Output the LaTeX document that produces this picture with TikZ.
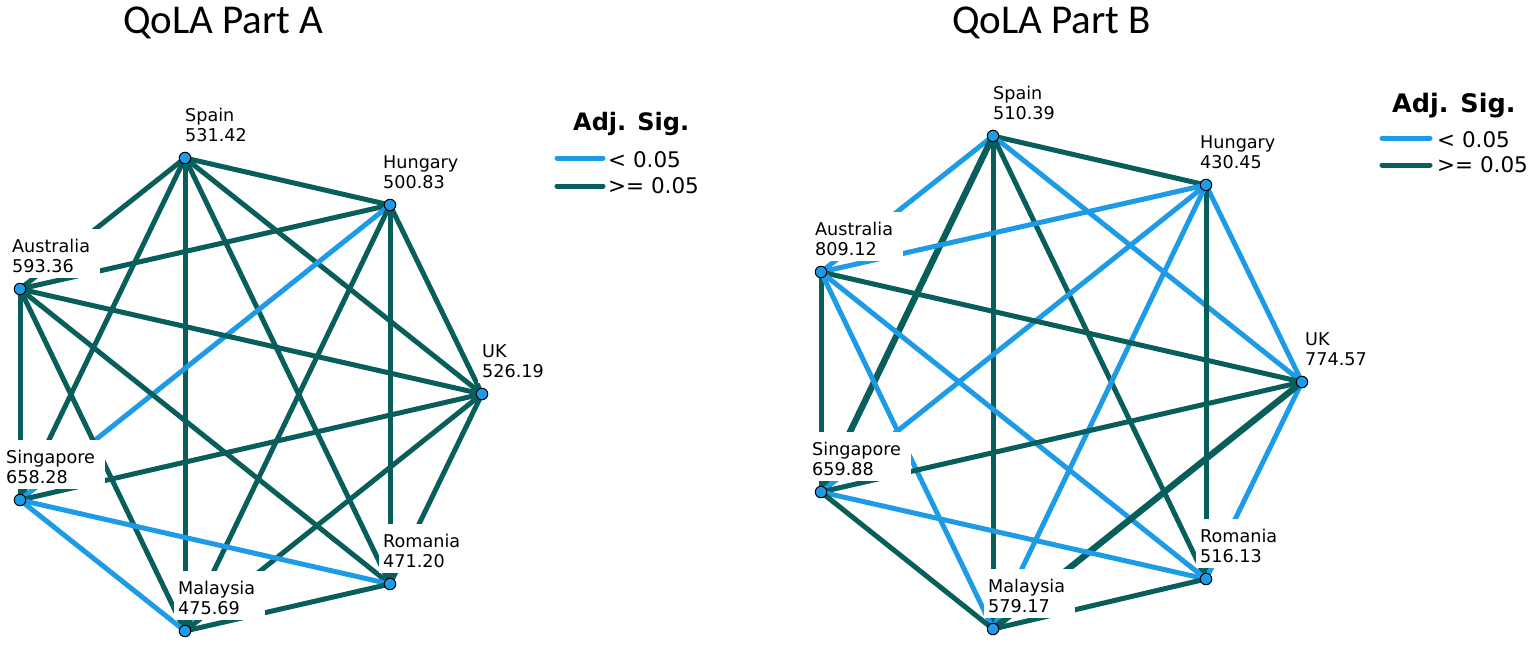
\documentclass[tikz,border=0pt]{standalone}
\usepackage{fontspec}
\setmainfont{DejaVu Sans}
\newfontfamily\titlefont{Carlito}
\definecolor{sigblue}{RGB}{30,155,230}
\definecolor{sigteal}{RGB}{8,94,90}
\pgfdeclarelayer{edges}
\pgfdeclarelayer{labels}
\pgfsetlayers{edges,labels,main}
\newcommand{\lab}[2]{\rule{0pt}{19pt}#1\rule{6pt}{0pt}\\#2\rule{6pt}{0pt}}
\begin{document}
\begin{tikzpicture}[x=1pt,y=-1pt,
  edge/.style={line width=5pt},
  sb/.style={edge,draw=sigblue},
  st/.style={edge,draw=sigteal},
  thick edge/.style={line width=6.4pt},
  dot/.style={circle,draw=black,line width=1pt,fill=sigblue,minimum size=11.5pt,inner sep=0pt},
  lbl/.style={fill=white,align=left,inner xsep=4pt,inner ysep=5pt,anchor=south west,font=\fontsize{17.6}{20}\selectfont},
  ttl/.style={anchor=base west,inner sep=0pt,font=\titlefont\fontsize{41}{41}\selectfont},
  leghead/.style={anchor=base west,inner sep=0pt,font=\bfseries\fontsize{24}{24}\selectfont},
  legtext/.style={anchor=west,inner sep=0pt,font=\fontsize{21.5}{22}\selectfont},
  legline/.style={line width=5pt,line cap=round}
]
\useasboundingbox (0,0) rectangle (1535,646);

% titles
\node[ttl] (tA) at (123,33) {QoLA Part A};
\node[ttl] (tB) at (952,33) {QoLA Part B};

% ---------- left graph nodes ----------
\node[dot] (aSp) at (185,158) {};
\node[dot] (aHu) at (390,205) {};
\node[dot] (aAu) at (20,289) {};
\node[dot] (aUK) at (482,394) {};
\node[dot] (aSg) at (20,500) {};
\node[dot] (aRo) at (390,584) {};
\node[dot] (aMy) at (185,631) {};

% ---------- right graph nodes ----------
\node[dot] (bSp) at (993,136) {};
\node[dot] (bHu) at (1206,185) {};
\node[dot] (bAu) at (821,272) {};
\node[dot] (bUK) at (1302,382) {};
\node[dot] (bSg) at (821,492) {};
\node[dot] (bRo) at (1206,579) {};
\node[dot] (bMy) at (993,629) {};

\begin{pgfonlayer}{labels}
\node[lbl] (aSpL) at (181,147) {\lab{Spain}{531.42}};
\node[lbl] (aHuL) at (379,194) {\lab{Hungary}{500.83}};
\node[lbl] (aAuL) at (8,278) {\lab{Australia}{593.36}};
\node[lbl] (aUKL) at (478,383) {\lab{UK}{526.19}};
\node[lbl] (aSgL) at (2,489) {\lab{Singapore}{658.28}};
\node[lbl] (aRoL) at (379,573) {\lab{Romania}{471.20}};
\node[lbl] (aMyL) at (174,620) {\lab{Malaysia}{475.69}};

\node[lbl] (bSpL) at (989,125) {\lab{Spain}{510.39}};
\node[lbl] (bHuL) at (1196,174) {\lab{Hungary}{430.45}};
\node[lbl] (bAuL) at (811,261) {\lab{Australia}{809.12}};
\node[lbl] (bUKL) at (1301,371) {\lab{UK}{774.57}};
\node[lbl] (bSgL) at (808,481) {\lab{Singapore}{659.88}};
\node[lbl] (bRoL) at (1196,568) {\lab{Romania}{516.13}};
\node[lbl] (bMyL) at (984,618) {\lab{Malaysia}{579.17}};
\end{pgfonlayer}

\begin{pgfonlayer}{edges}
% left graph
\draw[st] (aSp.center) -- (aHu.center);
\draw[st] (aSp.center) -- (aAu.center);
\draw[st] (aSp.center) -- (aUK.center);
\draw[st] (aSp.center) -- (aSg.center);
\draw[st] (aSp.center) -- (aRo.center);
\draw[st] (aSp.center) -- (aMy.center);
\draw[st] (aHu.center) -- (aAu.center);
\draw[st] (aHu.center) -- (aUK.center);
\draw[sb] (aHu.center) -- (aSg.center);
\draw[st] (aHu.center) -- (aRo.center);
\draw[st] (aHu.center) -- (aMy.center);
\draw[st] (aAu.center) -- (aUK.center);
\draw[st] (aAu.center) -- (aSg.center);
\draw[st] (aAu.center) -- (aRo.center);
\draw[st] (aAu.center) -- (aMy.center);
\draw[st] (aUK.center) -- (aSg.center);
\draw[st] (aUK.center) -- (aRo.center);
\draw[st] (aUK.center) -- (aMy.center);
\draw[sb] (aSg.center) -- (aRo.center);
\draw[sb] (aSg.center) -- (aMy.center);
\draw[st] (aRo.center) -- (aMy.center);
% right graph
\draw[st] (bSp.center) -- (bHu.center);
\draw[sb] (bSp.center) -- (bAu.center);
\draw[sb] (bSp.center) -- (bUK.center);
\draw[st,thick edge] (bSp.center) -- (bSg.center);
\draw[st] (bSp.center) -- (bRo.center);
\draw[st] (bSp.center) -- (bMy.center);
\draw[sb] (bHu.center) -- (bAu.center);
\draw[sb] (bHu.center) -- (bUK.center);
\draw[sb] (bHu.center) -- (bSg.center);
\draw[st] (bHu.center) -- (bRo.center);
\draw[sb] (bHu.center) -- (bMy.center);
\draw[st] (bAu.center) -- (bUK.center);
\draw[st] (bAu.center) -- (bSg.center);
\draw[sb] (bAu.center) -- (bRo.center);
\draw[sb] (bAu.center) -- (bMy.center);
\draw[st] (bUK.center) -- (bSg.center);
\draw[sb] (bUK.center) -- (bRo.center);
\draw[st,thick edge] (bUK.center) -- (bMy.center);
\draw[sb] (bSg.center) -- (bRo.center);
\draw[st] (bSg.center) -- (bMy.center);
\draw[st] (bRo.center) -- (bMy.center);
\end{pgfonlayer}

% legends
\node[leghead] (lgA) at (573,130) {Adj. Sig.};
\coordinate (lgA1s) at (557,158);
\coordinate (lgA1e) at (603,158);
\coordinate (lgA2s) at (557,186);
\coordinate (lgA2e) at (603,186);
\draw[legline,sigblue] (lgA1s) -- (lgA1e);
\draw[legline,sigteal] (lgA2s) -- (lgA2e);
\node[legtext] (lgA1t) at (608,160) {< 0.05};
\node[legtext] (lgA2t) at (608,186) {>= 0.05};

\node[leghead,font=\bfseries\fontsize{25.5}{26}\selectfont] (lgB) at (1392,112) {Adj. Sig.};
\coordinate (lgB1s) at (1382,138);
\coordinate (lgB1e) at (1430,138);
\coordinate (lgB2s) at (1382,165);
\coordinate (lgB2e) at (1430,165);
\draw[legline,sigblue] (lgB1s) -- (lgB1e);
\draw[legline,sigteal] (lgB2s) -- (lgB2e);
\node[legtext] (lgB1t) at (1437,140) {< 0.05};
\node[legtext] (lgB2t) at (1437,165) {>= 0.05};
\end{tikzpicture}
\end{document}
